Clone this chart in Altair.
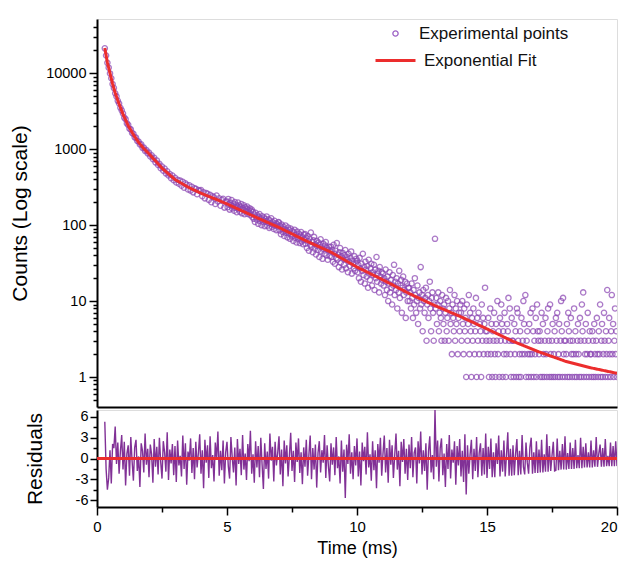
import altair as alt
import numpy as np
import pandas as pd

# ---------------- data ----------------
# exponential fit curve (time in ms, counts)
fit_t = [0.3, 0.4, 0.5, 0.6, 0.7, 0.8, 0.9, 1.0, 1.2, 1.4, 1.6, 1.8, 2.0, 2.5, 3.0,
         3.5, 4.0, 4.5, 5.0, 6.0, 7.0, 8.0, 9.0, 10.0, 11.0, 12.0, 13.0, 14.0, 15.0,
         16.0, 17.0, 18.0, 19.0, 20.0]
fit_counts = [21400, 13800, 10000, 7240, 5500, 4370, 3550, 2880, 2040, 1550, 1230, 1020,
              870, 562, 398, 316, 263, 224, 190, 132, 93, 63, 44, 28, 19, 12.6, 8.7, 6.2,
              4.3, 2.95, 2.14, 1.62, 1.32, 1.12]

# experimental points, 0.30 .. 4.95 ms every 0.05 ms
early_counts = [
    21250, 17120, 13690, 11820, 9930, 8580, 7180, 6370, 5440, 4950, 4330, 3990, 3510, 3240,
    2950, 2600, 2480, 2180, 2090, 1860, 1820, 1630, 1590, 1430, 1420, 1280, 1260, 1150, 1160, 1040, 1050, 950, 970, 880,
    900, 800, 830, 740, 770, 670, 710, 620, 640, 560, 590, 520, 555, 480, 510, 450, 470, 415, 450, 390,
    420, 365, 395, 350, 385, 330, 372, 310, 355, 340, 295, 335, 285, 320, 270, 305, 300, 255, 290, 282,
    290, 240, 270, 225, 265, 258, 215, 250, 200, 240, 232, 190, 245, 205, 225, 180, 215, 222, 170, 205,
]
# experimental points, 5.000 .. 20.000 ms every 0.025 ms
late_counts = [
    205, 172, 221, 188, 160, 197, 183, 214, 166, 178, 192, 155, 201, 170, 185, 148, 176, 198, 162, 181,
    150, 174, 190, 143, 168, 158, 182, 139, 171, 152, 164, 176, 140, 158, 147, 166, 135, 153, 160, 128,
    150, 121, 138, 110, 145, 127, 118, 135, 104, 128, 140, 113, 122, 100, 131, 117, 109, 126, 97, 120,
    112, 130, 98, 108, 119, 92, 115, 104, 123, 95, 110, 101, 89, 114, 99, 106, 86, 103, 96, 110,
    108, 85, 97, 76, 102, 90, 81, 95, 72, 88, 99, 79, 84, 69, 93, 78, 86, 66, 90, 75,
    71, 83, 62, 80, 87, 68, 74, 59, 82, 70, 65, 77, 58, 73, 81, 61, 69, 56, 75, 64,
    76, 57, 68, 50, 72, 61, 46, 66, 55, 80, 52, 60, 44, 63, 70, 49, 56, 41, 62, 53,
    47, 59, 38, 55, 65, 45, 51, 36, 57, 48, 42, 54, 60, 40, 50, 35, 47, 52, 39, 46,
    52, 38, 47, 33, 55, 42, 31, 46, 37, 58, 35, 41, 28, 44, 50, 32, 39, 26, 43, 36,
    30, 40, 47, 27, 35, 38, 24, 42, 33, 29, 37, 45, 23, 34, 31, 27, 39, 25, 32, 36,
    34, 24, 30, 20, 37, 27, 18, 31, 25, 42, 22, 28, 17, 33, 26, 21, 29, 15, 35, 23,
    19, 27, 31, 16, 24, 22, 30, 14, 26, 20, 38, 18, 23, 25, 13, 28, 21, 17, 24, 19,
    23, 16, 20, 12, 26, 18, 14, 21, 10, 17, 24, 13, 19, 15, 9, 22, 16, 30, 12, 18,
    14, 20, 8, 17, 13, 25, 11, 16, 19, 7, 15, 21, 12, 14, 18, 6, 13, 17, 10, 15,
    15, 10, 13, 8, 17, 11, 6, 14, 9, 20, 12, 7, 10, 16, 5, 11, 13, 8, 28, 9,
    12, 4, 14, 10, 7, 11, 15, 3, 9, 12, 6, 10, 18, 8, 4, 11, 13, 7, 3, 9,
    66, 8, 11, 5, 9, 13, 4, 7, 10, 6, 3, 12, 8, 5, 9, 3, 7, 11, 4, 6,
    10, 3, 8, 14, 5, 7, 2, 9, 6, 4, 12, 3, 8, 5, 10, 2, 6, 7, 4, 9,
    7, 3, 10, 5, 2, 8, 4, 6, 1, 9, 3, 5, 12, 2, 7, 4, 1, 6, 3, 8,
    5, 2, 4, 11, 1, 6, 3, 7, 2, 5, 4, 1, 9, 3, 6, 2, 5, 15, 4, 3,
    4, 2, 6, 1, 3, 8, 2, 5, 1, 4, 3, 7, 2, 1, 5, 3, 10, 2, 4, 1,
    6, 3, 9, 5, 1, 4, 2, 7, 3, 1, 2, 5, 4, 11, 3, 8, 2, 1, 6, 3,
    3, 1, 5, 2, 4, 1, 8, 7, 3, 1, 2, 4, 1, 6, 2, 3, 10, 5, 2, 12,
    1, 3, 4, 2, 1, 5, 2, 7, 1, 2, 8, 4, 1, 3, 2, 6, 1, 9, 4, 3,
    2, 4, 1, 3, 7, 1, 5, 2, 1, 3, 6, 2, 1, 4, 8, 3, 1, 9, 2, 1,
    3, 5, 1, 2, 4, 1, 6, 3, 7, 1, 2, 5, 1, 3, 10, 4, 1, 11, 2, 3,
    1, 3, 2, 5, 1, 7, 4, 1, 3, 6, 2, 1, 3, 2, 8, 1, 4, 2, 1, 3,
    5, 2, 1, 6, 3, 1, 9, 4, 13, 1, 3, 2, 5, 1, 2, 7, 3, 1, 4, 2,
    2, 1, 4, 3, 1, 5, 2, 1, 3, 6, 2, 1, 4, 2, 9, 1, 3, 5, 1, 2,
    7, 3, 1, 4, 2, 14, 1, 3, 6, 2, 1, 4, 12, 2, 5, 1, 3, 8, 2, 4, 1,
]

# weighted residuals, 0.30 .. 20.00 ms every 0.05 ms
residuals = [
    5.3, -1.5, -4.5, -2.8, 1.2, -3.6, 2.1, 1.5, 4.6, -0.8, 2.3, -2.2, 1.0, 3.4,
    -1.6, 2.4, -3.9, 0.7, 1.9, -2.5, 3.1, -0.4, -3.2, 1.6, 2.7, -1.8, 0.3, -4.1, 2.2, 1.1, -2.0, 3.6, -0.9, 1.4,
    -2.7, 2.0, 0.6, -3.5, 2.8, -1.2, 1.7, -2.3, 3.0, -0.5, -2.9, 2.5, 0.9, -1.9, 3.8, -3.1, 1.3, -0.7, 2.1, -2.4,
    1.8, -3.4, 2.6, -1.0, 0.4, -2.6, 3.3, -1.5, 2.2, -3.8, 1.0, -0.3, 2.9, -2.1, 1.5, -3.0, 2.4, -1.3, 0.8, 3.5,
    -2.2, 1.2, -4.3, 2.7, -0.6, 1.9, -2.8, 3.2, -1.4, 0.5, -3.3, 2.3, -0.2, 3.9, -2.5, 1.1, -1.7, 2.6, -3.6, 0.9,
    2.4, -1.1, -2.9, 3.1, 0.2, -2.0, 1.6, -3.9, 2.8, -0.8, 1.4, -2.4, 3.4, -1.6, 0.7, -3.1, 2.1, -0.4, 4.0, -2.2,
    0.6, -3.5, 2.5, -1.3, 1.8, -2.7, 3.0, -0.9, -4.4, 2.2, -1.5, 1.0, -2.9, 3.6, -0.3, 1.7, -3.3, 2.4, -1.0, 0.8,
    3.2, -2.3, 1.3, -4.0, 2.6, -0.7, 1.9, -2.6, 0.4, 3.7, -1.8, 1.1, -3.4, 2.3, -0.5, 2.9, -2.1, 0.9, -3.7, 1.6,
    -1.2, 2.7, -2.5, 0.5, 3.3, -3.0, 1.5, -1.6, 2.0, -4.2, 0.8, 2.5, -2.0, 1.2, -0.6, 3.4, -2.8, 1.9, -1.1, -3.3,
    2.2, -0.9, 1.6, -2.4, 3.1, -1.4, 0.3, -3.6, 2.6, -1.9, 1.3, -5.7, 2.0, -0.8, 3.5, -2.2, 0.9, -3.0, 1.8, -1.0,
    2.9, -2.6, 1.0, -3.9, 2.3, -0.4, 1.7, -2.3, 3.8, -1.3, 0.6, -3.2, 2.5, -1.7, 1.2, -4.3, 2.1, -0.6, 3.0, -2.5,
    0.7, 3.3, -2.0, 1.5, -3.5, 2.7, -0.9, 1.9, -2.8, 0.4, 3.6, -1.6, 1.1, -4.0, 2.4, -0.5, 2.8, -2.2, 1.4, -3.1,
    2.0, -1.4, 3.1, -2.7, 0.8, 1.6, -3.6, 2.5, -0.7, 3.9, -2.3, 1.2, -1.8, 2.2, -4.5, 1.0, 3.2, -2.0, 0.5, -3.0,
    7.0, -1.2, 2.6, -3.3, 1.5, 2.9, -2.4, 0.7, -4.1, 2.1, -1.5, 3.4, -2.9, 1.3, -0.6, 2.5, -3.8, 1.8, -1.0, 2.8,
    -2.6, 1.1, -3.4, 3.5, -5.2, 1.9, -2.2, 0.6, 2.7, -3.0, 1.4, -1.8, 3.1, -2.7, 0.8, 2.2, -2.5, 1.5, -2.3, 3.6,
    -2.8, 1.7, -1.5, 2.9, -2.7, 0.9, -2.7, 2.2, -0.8, 3.3, -2.6, 1.2, -1.9, 2.6, -2.6, 0.5, 3.8, -2.5, 1.4, -2.5,
    1.9, -2.4, 0.7, 2.8, -2.4, 1.1, -2.3, 3.4, -1.2, -2.3, 2.3, -0.6, -2.2, 1.6, 3.0, -2.2, 0.9, -2.1, 2.5, -2.1,
    1.3, -2.0, 2.7, -2.0, 0.6, -1.9, 3.5, -1.9, 1.8, -1.8, 0.4, 2.4, -1.8, -1.7, 2.9, -1.7, 1.1, -1.6, 2.1, -1.6,
    3.2, -1.6, 0.8, -1.5, 2.3, -1.5, 1.5, -1.5, 2.7, -1.4, 0.5, -1.4, 3.0, -1.4, 1.7, -1.3, 2.2, -1.3, 0.9, -1.3,
    2.6, -1.3, 1.2, -1.2, 3.1, -1.2, 0.7, 2.0, -1.2, 1.5, -1.2, 2.8, -1.1, 0.4, -1.1, 2.3, -1.1, 1.8, -1.1, 2.5, -1.1,
]

# zero reference line of the residual panel
zero_t = [0, 20]
zero_r = [0, 0]

log_major = [1, 10, 100, 1000, 10000]
log_minor = [m * d for d in [0.1, 1, 10, 100, 1000, 10000] for m in range(2, 10)]
log_ticks = [v for v in sorted(set(log_major + log_minor)) if 0.45 < v < 45000]
time_ticks = [0, 2.5, 5, 7.5, 10, 12.5, 15, 17.5, 20]
resid_ticks = [-6, -4.5, -3, -1.5, 0, 1.5, 3, 4.5, 6]

# ---------------- tables ----------------
t_early = np.round(np.arange(0.30, 4.9501, 0.05), 3)
t_late = np.round(np.arange(5.0, 20.0001, 0.025), 3)
n1 = min(len(t_early), len(early_counts))
n2 = min(len(t_late), len(late_counts))
pts = pd.DataFrame({
    "t": list(t_early[:n1]) + list(t_late[:n2]),
    "counts": early_counts[:n1] + late_counts[:n2],
})
pts["series"] = "Experimental points"

fit = pd.DataFrame({"t": fit_t, "counts": fit_counts})
fit["series"] = "Exponential Fit"

t_res = np.round(np.arange(0.30, 20.0001, 0.05), 3)
nr = min(len(t_res), len(residuals))
res = pd.DataFrame({"t": t_res[:nr], "r": residuals[:nr]})
zero = pd.DataFrame({"t": zero_t, "r": zero_r})

FONT = "Liberation Sans"
PURPLE = "#8b46b3"
RED = "#ec2d2d"

major_test = "datum.value == 1 || datum.value == 10 || datum.value == 100 || datum.value == 1000 || datum.value == 10000"
res_major = "abs(datum.value) == 3 || abs(datum.value) == 6 || datum.value == 0"

x_scale = alt.Scale(domain=[0, 20], nice=False, zero=False)

y_top = alt.Y(
    "counts:Q",
    scale=alt.Scale(type="log", domain=[0.403, 51700], nice=False),
    axis=alt.Axis(
        title="Counts (Log scale)", values=log_ticks,
        labelExpr=f"({major_test}) ? format(datum.value, 'd') : ''",
        tickSize={"condition": {"test": major_test, "value": 8}, "value": 4},
        tickColor="black", tickWidth=1.5, domainColor="black", domainWidth=2,
        labelFont=FONT, labelFontSize=14.5, labelColor="black", labelPadding=3,
        titleFont=FONT, titleFontSize=21, titleFontWeight="normal", titleColor="black",
        titlePadding=15.5, grid=False, labelFlush=False,
    ),
)
x_top = alt.X(
    "t:Q", scale=x_scale,
    axis=alt.Axis(title=None, labels=False, ticks=False, domainColor="black",
                  domainWidth=2, grid=False, values=[0, 20]),
)

points = alt.Chart(pts).transform_filter("datum.counts > 0").mark_point(
    filled=False, size=28, strokeWidth=1.3, opacity=0.72, color=PURPLE, clip=True
).encode(
    x=x_top, y=y_top,
    shape=alt.Shape("series:N", scale=alt.Scale(domain=["Experimental points"], range=["circle"]),
                    legend=alt.Legend(title=None, orient="none", legendX=290, legendY=6,
                                      labelFont=FONT, labelFontSize=17, labelColor="#111",
                                      labelOffset=15, symbolSize=28, symbolStrokeColor="#9d63c6",
                                      symbolFillColor="transparent", symbolStrokeWidth=1.3,
                                      symbolOpacity=1, labelLimit=300)),
)

fitline = alt.Chart(fit).mark_line(color=RED, strokeWidth=3, clip=True).encode(
    x=x_top, y=y_top,
    strokeDash=alt.StrokeDash("series:N", scale=alt.Scale(domain=["Exponential Fit"], range=[[1, 0]]),
                              legend=alt.Legend(title=None, orient="none", legendX=277, legendY=20,
                                                labelFont=FONT, labelFontSize=17, labelColor="#111",
                                                labelOffset=7, symbolType="stroke", symbolSize=1600,
                                                symbolStrokeColor=RED, symbolStrokeWidth=3,
                                                labelLimit=300)),
)

top = alt.layer(points, fitline).properties(width=520, height=388)

x_bot = alt.X(
    "t:Q", scale=x_scale,
    axis=alt.Axis(
        title="Time (ms)", values=time_ticks,
        labelExpr="datum.value % 5 == 0 ? datum.label : ''",
        labelAlign={"condition": {"test": "datum.value == 20", "value": "right"}, "value": "center"},
        tickSize={"condition": {"test": "datum.value % 5 == 0", "value": 8}, "value": 5},
        tickColor="black", tickWidth=1.5, domainColor="black", domainWidth=2,
        labelFont=FONT, labelFontSize=15, labelColor="black", labelPadding=4,
        titleFont=FONT, titleFontSize=18, titleFontWeight="normal", titleColor="black",
        titlePadding=5, grid=False, labelFlush=False, labelOverlap=False, labelBound=False,
    ),
)
y_bot = alt.Y(
    "r:Q", scale=alt.Scale(domain=[-7, 7], nice=False),
    axis=alt.Axis(
        title="Residuals", values=resid_ticks,
        labelExpr=f"({res_major}) ? '' + datum.value : ''",
        tickSize={"condition": {"test": res_major, "value": 7}, "value": 4},
        tickColor="black", tickWidth=1.5, domainColor="black", domainWidth=2,
        labelFont=FONT, labelFontSize=14.5, labelColor="black", labelPadding=2,
        titleFont=FONT, titleFontSize=21, titleFontWeight="normal", titleColor="black",
        titlePadding=30, grid=False, labelFlush=False, labelBound=False, labelOverlap=False,
    ),
)

resline = alt.Chart(res).mark_line(color="#7a2690", strokeWidth=1.4, opacity=0.95, clip=True).encode(x=x_bot, y=y_bot)
zeroline = alt.Chart(zero).mark_line(color=RED, strokeWidth=3, clip=True).encode(x=x_bot, y=y_bot)

bottom = alt.layer(resline, zeroline).properties(width=520, height=97)

chart = alt.vconcat(top, bottom, spacing=0).properties(
    padding={"left": 0, "top": 10, "right": 0, "bottom": 0}
).configure_view(stroke=None).configure(background="white")

chart.save("out.html", embed_options={"renderer": "svg", "actions": False})
